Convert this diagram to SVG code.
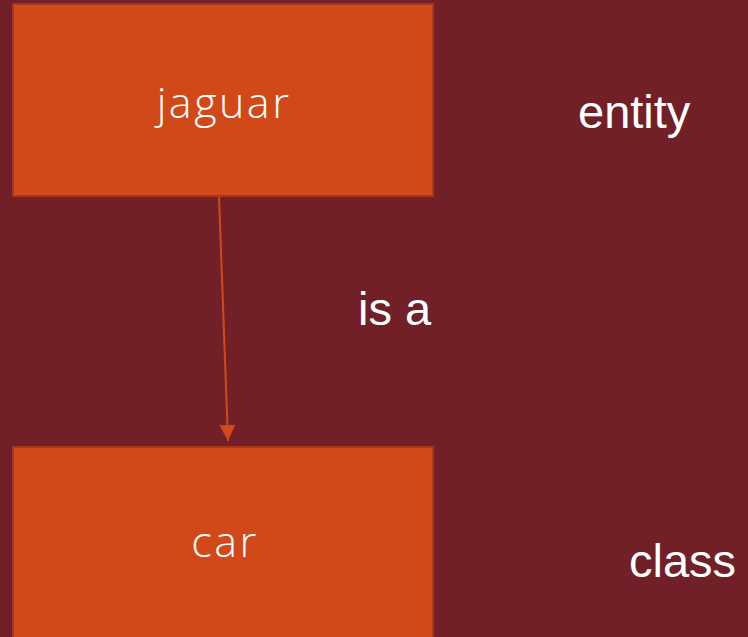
<svg xmlns="http://www.w3.org/2000/svg" width="748" height="637" viewBox="0 0 748 637">
  <style>
    .box { fill: #D14918; stroke: #A8361A; stroke-width: 2; }
    .boxtext { fill: #FFFFFF; font-family: "Open Sans", "Noto Sans", sans-serif; font-weight: 300; font-size: 43px; letter-spacing: 2.5px; text-anchor: middle; }
    .label { fill: #FFFFFF; font-family: "Liberation Sans", Arial, sans-serif; font-size: 47px; }
    .conn { stroke: #D14918; stroke-width: 2; fill: none; }
  </style>
  <defs>
    <marker id="arrow" viewBox="0 0 16 16" refX="16" refY="8" markerWidth="16" markerHeight="16" markerUnits="userSpaceOnUse" orient="auto">
      <path d="M0,0 L16,8 L0,16 Z" fill="#D14918"/>
    </marker>
  </defs>
  <rect width="748" height="637" fill="#722027"/>
  <g id="jaguar">
    <rect class="box" x="13" y="4" width="420" height="192"/>
    <text class="boxtext" x="224" y="118">jaguar</text>
  </g>
  <g id="car">
    <rect class="box" x="13" y="447" width="420" height="200"/>
    <text class="boxtext" x="225" y="557">car</text>
  </g>
  <g id="connectors">
    <line class="conn" x1="219" y1="197" x2="228" y2="441" marker-end="url(#arrow)"/>
  </g>
  <g id="labels">
    <text class="label" x="578" y="128">entity</text>
    <text class="label" x="358" y="325">is a</text>
    <text class="label" x="629" y="577">class</text>
  </g>
</svg>
